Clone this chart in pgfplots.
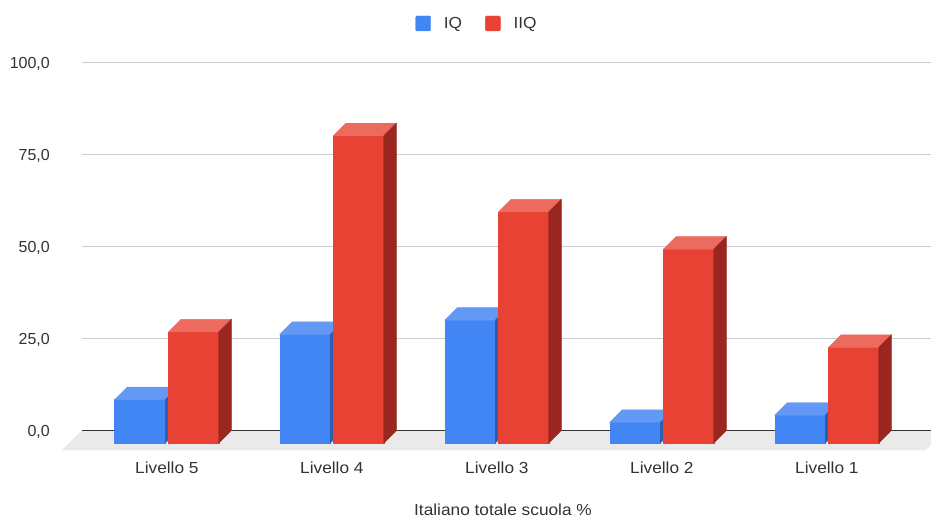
\documentclass[border=0pt]{standalone}
\usepackage{fontspec}
\setmainfont{Liberation Sans}
\newfontfamily\widefont[FakeStretch=1.08]{Liberation Sans}
\usepackage{pgfplots}
\pgfplotsset{compat=1.18}
\usepackage{pgfplotstable}

\definecolor{blueF}{HTML}{4285F4}
\definecolor{blueT}{HTML}{6399F5}
\definecolor{blueS}{HTML}{2C5FB0}
\definecolor{redF}{HTML}{E84234}
\definecolor{redT}{HTML}{EC6A5E}
\definecolor{redS}{HTML}{99271F}
\definecolor{floorgray}{HTML}{EAEAEA}
\definecolor{gridgray}{HTML}{CCCCCC}
\definecolor{zerol}{HTML}{333333}
\definecolor{txt}{HTML}{333333}

\pgfdeclareplotmark{nothing3d}{}

\pgfplotstableread{
x IQ IIQ
0 11.8 30.2
1 29.5 83.5
2 33.4 62.8
3 5.6 52.7
4 7.6 26.0
}\bardata

\newcommand{\bdepth}{12.6pt}
\newcommand{\yunit}{3.682pt}
% #1 left, #2 right (relative to back centre), #3 front, #4 top, #5 side colour
\newcommand{\barthreed}[5]{%
  \fill[#3] ({#1-\bdepth},{-\bdepth-\val*\yunit}) rectangle ({#2-\bdepth},{-\bdepth});
  \fill[#4] ({#1-\bdepth},{-\bdepth}) -- ({#2-\bdepth},{-\bdepth}) -- (#2,0pt) -- (#1,0pt) -- cycle;
  \fill[#5] ({#2-\bdepth},{-\bdepth}) -- (#2,0pt) -- ({#2},{-\val*\yunit}) -- ({#2-\bdepth},{-\bdepth-\val*\yunit}) -- cycle;
}

\begin{document}
\begin{tikzpicture}
\useasboundingbox (-82pt,-87.5pt) rectangle (849pt,430.5pt);
\begin{axis}[
  scale only axis,
  width=849pt, height=368pt,
  xmin=-0.5909, xmax=4.5545,
  ymin=0, ymax=100,
  clip=false,
  axis line style={draw=none},
  tick style={draw=none},
  major tick length=0pt,
  ytick={0,25,50,75,100},
  ymajorgrids,
  grid style={line width=1pt, gridgray},
  xtick={0,1,2,3,4},
  xticklabels={Livello 5,Livello 4,Livello 3,Livello 2,Livello 1},
  font=\fontsize{16}{19}\selectfont,
  xticklabel style={font=\widefont\fontsize{16}{19}\selectfont, anchor=base, inner sep=0pt, xshift=-12.6pt, yshift=-43.5pt, text=txt},
  yticklabel style={anchor=base east, inner sep=0pt, xshift=-32pt, yshift=-5.8pt, text=txt,
    /pgf/number format/.cd, fixed, fixed zerofill, precision=1, use comma, assume math mode=true},
  xlabel={Italiano totale scuola \%},
  xlabel style={font=\widefont\fontsize{16}{19}\selectfont, at={(axis description cs:0.4959,0)}, anchor=base, inner sep=0pt, yshift=-85.3pt, text=txt},
  legend columns=-1,
  legend style={at={(0.4653,1.106)}, anchor=center, draw=none, fill=none,
    text=txt, font=\widefont\fontsize{16}{19}\selectfont,
    /tikz/every odd column/.append style={column sep=11pt},
    /tikz/every even column/.append style={column sep=21pt}},
]
\fill[floorgray] (axis cs:-0.5909,0) -- (axis cs:4.64,0)
  -- ([shift={(-20pt,-20pt)}]axis cs:4.64,0)
  -- ([shift={(-20pt,-20pt)}]axis cs:-0.5909,0) -- cycle;
\draw[zerol, line width=1pt] (axis cs:-0.5909,0) -- (axis cs:4.5545,0);

\addlegendimage{legend image code/.code={\fill[blueF, rounded corners=1.2pt] (0pt,-7.5pt) rectangle (15pt,7.5pt);}}
\addlegendentry{IQ}
\addlegendimage{legend image code/.code={\fill[redF, rounded corners=1.2pt] (0pt,-7.5pt) rectangle (15pt,7.5pt);}}
\addlegendentry{IIQ}

\addplot[forget plot, only marks, mark=nothing3d, scatter,
  visualization depends on={rawy \as \val},
  scatter/@pre marker code/.code={\begin{scope}\barthreed{-52.2pt}{-1.7pt}{blueF}{blueT}{blueS}},
  scatter/@post marker code/.code={\end{scope}}]
  table[x=x, y=IQ] {\bardata};
\addplot[forget plot, only marks, mark=nothing3d, scatter,
  visualization depends on={rawy \as \val},
  scatter/@pre marker code/.code={\begin{scope}\barthreed{1.5pt}{51.8pt}{redF}{redT}{redS}},
  scatter/@post marker code/.code={\end{scope}}]
  table[x=x, y=IIQ] {\bardata};
\end{axis}
\end{tikzpicture}
\end{document}
